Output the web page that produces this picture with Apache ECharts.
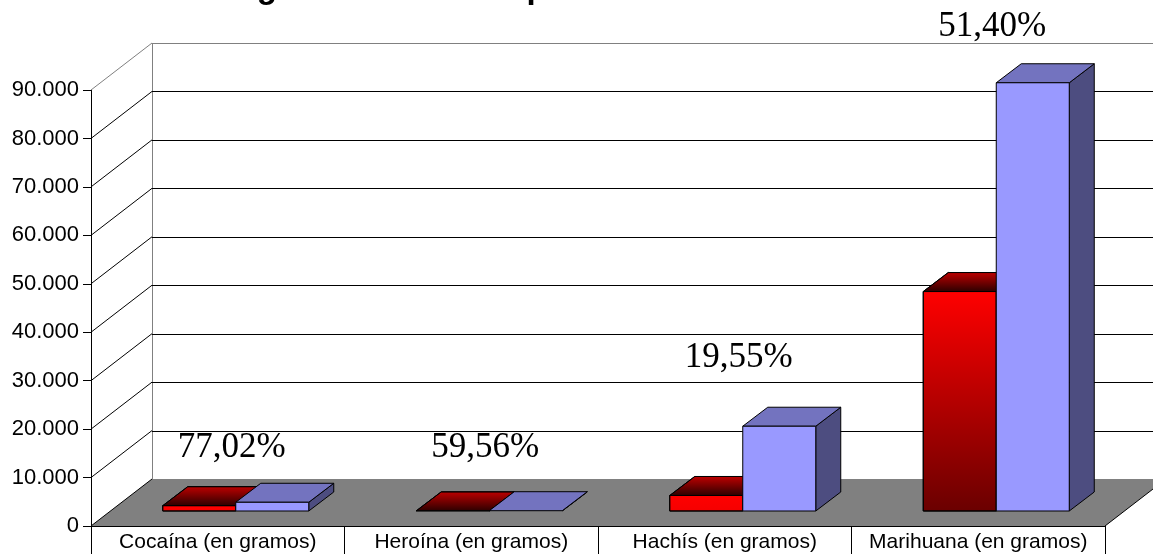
<!DOCTYPE html>
<html>
<head>
<meta charset="utf-8">
<script src="https://cdn.jsdelivr.net/npm/echarts@6/dist/echarts.min.js"></script>
<style>
  html, body { margin: 0; padding: 0; background: #fff; }
  #chart { width: 1153px; height: 554px; }
</style>
</head>
<body>
<div id="chart"></div>
<script>
// Drug seizures per type, two years compared
const categories = ['Cocaína (en gramos)', 'Heroína (en gramos)', 'Hachís (en gramos)', 'Marihuana (en gramos)'];
const seriesRed = [1100, 30, 3200, 45300];
const seriesBlue = [1800, 60, 17500, 88400];
const percentLabels = ['77,02%', '59,56%', '19,55%', '51,40%'];
const yTicks = [0, 10000, 20000, 30000, 40000, 50000, 60000, 70000, 80000, 90000];
const titleText = 'Drogas intervenidas por la Guardia Civil';

// 3D look: depth of the wall/floor and of each bar (pixels)
const WALL_DX = 61, WALL_DY = -47;
const BAR_FX = 18, BAR_FY = -15;     // front face set back into the floor
const BAR_DX = 25, BAR_DY = -19;     // bar depth
const BAR_FRAC = 0.288;              // bar width as share of the category band

const fmt = v => String(v).replace(/\B(?=(\d{3})+(?!\d))/g, '.');

const chart = echarts.init(document.getElementById('chart'), null, { renderer: 'canvas' });

function lerpColor(a, b, t) {
  const pa = a.match(/\w\w/g).map(h => parseInt(h, 16));
  const pb = b.match(/\w\w/g).map(h => parseInt(h, 16));
  return 'rgb(' + pa.map((c, i) => Math.round(c + (pb[i] - c) * t)).join(',') + ')';
}

// walls, floor and gridlines drawn in perspective from the value axis
function renderFrame(params, api) {
  const cs = params.coordSys;
  const v = api.value(1);
  const y = api.coord([0, v])[1];
  const x0 = cs.x, x1 = cs.x + cs.width;
  const children = [];
  const isTop = v === yTicks[yTicks.length - 1];
  const lineColor = isTop ? '#808080' : '#000';
  if (v === 0) {
    children.push({
      type: 'polygon',
      shape: { points: [[x0, y], [x1, y], [x1 + WALL_DX, y + WALL_DY], [x0 + WALL_DX, y + WALL_DY]] },
      style: { fill: '#808080', stroke: null }
    });
    children.push({
      type: 'line',
      shape: { x1: x1, y1: y, x2: x1 + WALL_DX, y2: y + WALL_DY },
      style: { stroke: '#000', lineWidth: 1 }
    });
    const yTop = api.coord([0, yTicks[yTicks.length - 1]])[1];
    children.push({
      type: 'line',
      shape: { x1: x0 + WALL_DX + 0.5, y1: y + WALL_DY, x2: x0 + WALL_DX + 0.5, y2: yTop + WALL_DY },
      style: { stroke: '#808080', lineWidth: 1 }
    });
  } else {
    children.push({
      type: 'line',
      shape: { x1: x0 + WALL_DX, y1: Math.round(y + WALL_DY) + 0.5, x2: x1 + WALL_DX + 20, y2: Math.round(y + WALL_DY) + 0.5 },
      style: { stroke: lineColor, lineWidth: 1 }
    });
  }
  children.push({
    type: 'line',
    shape: { x1: x0, y1: y, x2: x0 + WALL_DX, y2: y + WALL_DY },
    style: { stroke: lineColor, lineWidth: 1 }
  });
  return { type: 'group', children: children };
}

function makeBarRenderer(side, colors) {
  return function (params, api) {
    const i = api.value(0), v = api.value(1);
    const base = api.coord([i, 0]);
    const top = api.coord([i, v]);
    const bw = api.size([1, 0])[0] * BAR_FRAC;
    const xa = (side < 0 ? base[0] - bw : base[0]) + BAR_FX;
    const xb = xa + bw;
    const yb = base[1] + BAR_FY;
    const yt = top[1] + BAR_FY;
    const h = yb - yt;
    const sideFace = {
      type: 'polygon',
      shape: { points: [[xb, yt], [xb + BAR_DX, yt + BAR_DY], [xb + BAR_DX, yb + BAR_DY], [xb, yb]] },
      style: { fill: colors.side, stroke: '#000', lineWidth: 1 }
    };
    const topFace = {
      type: 'polygon',
      shape: { points: [[xa, yt], [xb, yt], [xb + BAR_DX, yt + BAR_DY], [xa + BAR_DX, yt + BAR_DY]] },
      style: {
        fill: colors.topGrad
          ? new echarts.graphic.LinearGradient(0, 0, 0, 1, [
              { offset: 0, color: colors.topGrad[0] }, { offset: 1, color: colors.topGrad[1] }])
          : colors.top,
        stroke: '#000', lineWidth: 1
      }
    };
    const children = [sideFace, topFace];
    if (h > 0.5) {
      let fill = colors.front;
      if (colors.frontGrad) {
        const t = Math.min(1, h / 220);
        fill = new echarts.graphic.LinearGradient(0, 0, 0, 1, [
          { offset: 0, color: colors.frontGrad[0] },
          { offset: 1, color: lerpColor(colors.frontGrad[0], colors.frontGrad[1], t) }]);
      }
      children.push({
        type: 'rect',
        shape: { x: xa, y: yt, width: bw, height: h },
        style: { fill: fill, stroke: '#000', lineWidth: 1 }
      });
    }
    return { type: 'group', children: children };
  };
}

const option = {
  animation: false,
  backgroundColor: '#fff',
  textStyle: { fontFamily: 'Liberation Sans' },
  grid: { left: 91, right: 48, top: 90, bottom: 28, containLabel: false },
  xAxis: {
    type: 'category',
    data: categories,
    boundaryGap: true,
    axisLine: { lineStyle: { color: '#000', width: 1 } },
    axisTick: { show: true, length: 28, lineStyle: { color: '#000' } },
    axisLabel: { color: '#000', fontSize: 21, margin: 6, fontFamily: 'Liberation Sans', interval: 0 },
    splitLine: { show: false }
  },
  yAxis: {
    type: 'value',
    min: yTicks[0],
    max: yTicks[yTicks.length - 1],
    interval: yTicks[1] - yTicks[0],
    axisLine: { show: true, lineStyle: { color: '#000', width: 1 } },
    axisTick: { show: true, length: 8, lineStyle: { color: '#000' } },
    axisLabel: { color: '#000', fontSize: 22, margin: 12, fontFamily: 'Liberation Sans', formatter: fmt },
    splitLine: { show: false }
  },
  series: [
    {
      type: 'custom',
      name: 'frame',
      silent: true,
      clip: false,
      z: 1,
      renderItem: renderFrame,
      data: yTicks.map(v => [0, v])
    },
    {
      type: 'custom',
      name: 'Serie 1',
      clip: false,
      z: 2,
      renderItem: makeBarRenderer(-1, {
        frontGrad: ['#FF0000', '#6A0000'],
        topGrad: ['#C00000', '#2A0000'],
        side: '#5A0000'
      }),
      data: seriesRed.map((v, i) => [i, v])
    },
    {
      type: 'custom',
      name: 'Serie 2',
      clip: false,
      z: 3,
      renderItem: makeBarRenderer(1, {
        front: '#9999FF',
        top: '#7373BF',
        side: '#4D4D80'
      }),
      data: seriesBlue.map((v, i) => [i, v])
    }
  ]
};

chart.setOption(option);

// percentage annotations above each category and the chart title
const labelY = [448, 448, 358, 27];
const graphics = [{
  type: 'text',
  x: 200, y: -28,
  z: 10,
  style: { text: titleText, font: 'bold 33px "Liberation Sans"', fill: '#000', textAlign: 'left', textVerticalAlign: 'top' }
}];
percentLabels.forEach((t, i) => {
  const px = chart.convertToPixel({ xAxisIndex: 0 }, categories[i]);
  graphics.push({
    type: 'text',
    x: px + 14,
    y: labelY[i],
    z: 10,
    style: { text: t, font: '35px "Liberation Serif"', fill: '#000', textAlign: 'center', textVerticalAlign: 'middle' }
  });
});
chart.setOption({ graphic: graphics });
</script>
</body>
</html>
